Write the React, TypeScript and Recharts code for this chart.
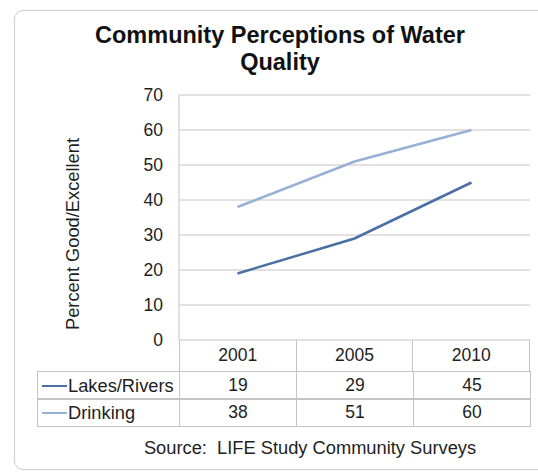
import { CartesianGrid, Line, LineChart, XAxis, YAxis } from "recharts";

const years = ["2001", "2005", "2010"];
const lakesRivers = [19, 29, 45];
const drinking = [38, 51, 60];
const yTicks = [0, 10, 20, 30, 40, 50, 60, 70];

const series = [
  { key: "lakes", name: "Lakes/Rivers", values: lakesRivers, color: "#4a6fa5" },
  { key: "drinking", name: "Drinking", values: drinking, color: "#97b0d5" },
];

const rows = years.map((year, i) => ({
  year,
  lakes: lakesRivers[i],
  drinking: drinking[i],
}));

const font = "Arial, 'Liberation Sans', sans-serif";
const gridColor = "#c4c4c4";
const textColor = "#1e1e1e";

// plot box in page coords
const plotLeft = 179;
const plotRight = 530;
const plotTop = 95;
const plotBottom = 340;
const colW = (plotRight - plotLeft) / years.length;
const rowH = 28;
const headerH = 31;
const tableLeft = 37;

const App = () => {
  return (
    <div
      style={{
        position: "absolute",
        left: 0,
        top: 0,
        width: 538,
        height: 472,
        background: "#fff",
        fontFamily: font,
        overflow: "hidden",
      }}
    >
      <div
        style={{
          position: "absolute",
          left: 14,
          top: 10,
          width: 540,
          height: 458,
          border: "1px solid #cfcfcf",
          borderRadius: 9,
        }}
      />
      <div
        style={{
          position: "absolute",
          left: 30,
          top: 22,
          width: 500,
          textAlign: "center",
          fontSize: 23.5,
          fontWeight: "bold",
          lineHeight: "27px",
          color: "#111",
        }}
      >
        Community Perceptions of Water
        <br />
        Quality
      </div>
      <div
        style={{
          position: "absolute",
          left: 73,
          top: 234,
          transform: "translate(-50%, -50%) rotate(-90deg)",
          whiteSpace: "nowrap",
          fontSize: 18.3,
          color: textColor,
        }}
      >
        Percent Good/Excellent
      </div>

      <div style={{ position: "absolute", left: 0, top: 0 }}>
        <LineChart
          width={538}
          height={472}
          data={rows}
          margin={{ top: plotTop, right: 538 - plotRight, bottom: 472 - plotBottom, left: 0 }}
        >
          <CartesianGrid vertical={false} stroke={gridColor} strokeWidth={1} />
          <XAxis
            dataKey="year"
            hide
            padding={{ left: colW / 2, right: colW / 2 }}
          />
          <YAxis
            width={plotLeft}
            domain={[0, 70]}
            ticks={yTicks}
            interval={0}
            axisLine={{ stroke: gridColor }}
            tickLine={false}
            tickSize={8}
            tickMargin={8}
            tick={{ fill: textColor, fontSize: 17.5, fontFamily: font }}
          />
          {series.map((s) => (
            <Line
              key={s.key}
              dataKey={s.key}
              name={s.name}
              stroke={s.color}
              strokeWidth={2.5}
              dot={false}
              isAnimationActive={false}
            />
          ))}
        </LineChart>
      </div>

      {/* data table */}
      <div
        style={{
          position: "absolute",
          left: plotLeft,
          top: plotBottom,
          width: plotRight - plotLeft,
          height: headerH,
          display: "flex",
          borderLeft: `1px solid ${gridColor}`,
          borderRight: `1px solid ${gridColor}`,
          boxSizing: "border-box",
        }}
      >
        {years.map((y, i) => (
          <div
            key={y}
            style={{
              flex: 1,
              borderLeft: i > 0 ? `1px solid ${gridColor}` : "none",
              textAlign: "center",
              lineHeight: `${headerH}px`,
              fontSize: 17.5,
              color: textColor,
            }}
          >
            {y}
          </div>
        ))}
      </div>
      {series.map((s, r) => (
        <div
          key={s.key}
          style={{
            position: "absolute",
            left: tableLeft,
            top: plotBottom + headerH + r * rowH,
            width: plotRight - tableLeft + 1,
            height: rowH + 1,
            display: "flex",
            border: `1px solid ${gridColor}`,
            boxSizing: "border-box",
            marginTop: r > 0 ? -1 : 0,
          }}
        >
          <div
            style={{
              width: plotLeft - tableLeft - 1,
              display: "flex",
              alignItems: "center",
              fontSize: 18.3,
              color: textColor,
              whiteSpace: "nowrap",
            }}
          >
            <span
              style={{
                display: "inline-block",
                width: 25,
                height: 2,
                background: s.color,
                marginLeft: 4,
                marginRight: 1,
                flexShrink: 0,
              }}
            />
            {s.name}
          </div>
          {s.values.map((v, i) => (
            <div
              key={i}
              style={{
                flex: 1,
                borderLeft: `1px solid ${gridColor}`,
                textAlign: "center",
                lineHeight: `${rowH - 1}px`,
                fontSize: 17.5,
                color: textColor,
              }}
            >
              {v}
            </div>
          ))}
        </div>
      ))}

      <div
        style={{
          position: "absolute",
          left: 50,
          top: 437,
          width: 520,
          textAlign: "center",
          fontSize: 18.3,
          color: textColor,
          whiteSpace: "pre",
        }}
      >
        {"Source:  LIFE Study Community Surveys"}
      </div>
    </div>
  );
};

export default App;
